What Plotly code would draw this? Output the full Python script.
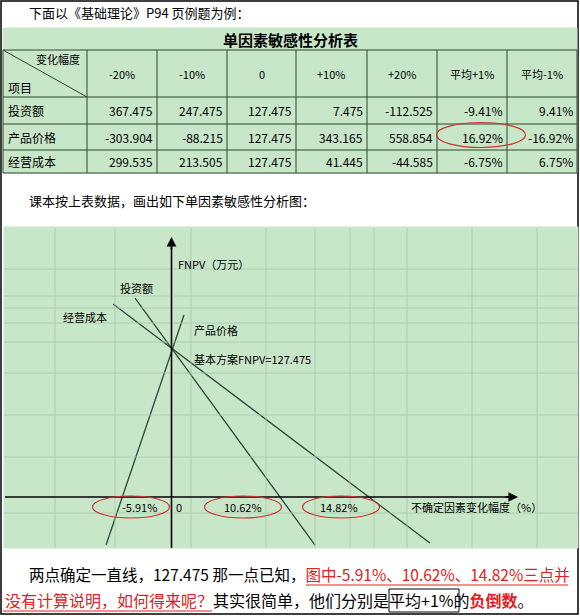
import plotly.graph_objects as go

W, H = 580, 616

# table data
col_labels = ["-20%", "-10%", "0", "+10%", "+20%", "平均+1%", "平均-1%"]
row_labels = ["投资额", "产品价格", "经营成本"]
invest = ["367.475", "247.475", "127.475", "7.475", "-112.525", "-9.41%", "9.41%"]
price = ["-303.904", "-88.215", "127.475", "343.165", "558.854", "16.92%", "-16.92%"]
cost = ["299.535", "213.505", "127.475", "41.445", "-44.585", "-6.75%", "6.75%"]
table_rows = [invest, price, cost]

# chart data (drawn units: x ~ change %, y ~ FNPV, as sketched in the picture)
price_x = [-7.86, 1.50]
price_y = [-41.1, 155.7]
invest_x = [-4.38, 17.23]
invest_y = [170.2, -41.1]
cost_x = [-7.02, 31.03]
cost_y = [165.1, -39.4]
cross_labels = ["-5.91%", "10.62%", "14.82%"]


def px(x):
    return x / W


def py(y):
    return 1 - y / H


FONT = "Noto Sans CJK SC"
GREEN = "#c8e6c8"
RED = "#e02020"
fig = go.Figure()
shapes = []
ann = []


def text(x, y, s, size=12, color="black", xanchor="left", bold=False):
    ann.append(dict(xref="paper", yref="paper", x=px(x), y=py(y), text=f"<b>{s}</b>" if bold else s,
                    showarrow=False, xanchor=xanchor, yanchor="middle",
                    font=dict(family=FONT, size=size, color=color)))


def line(x0, y0, x1, y1, color="black", width=1):
    shapes.append(dict(type="line", xref="paper", yref="paper", x0=px(x0), y0=py(y0), x1=px(x1), y1=py(y1),
                       line=dict(color=color, width=width)))


def rect(x0, y0, x1, y1, fill=None, color="black", width=1):
    shapes.append(dict(type="rect", xref="paper", yref="paper", x0=px(x0), y0=py(y0), x1=px(x1), y1=py(y1),
                       fillcolor=fill or "rgba(0,0,0,0)", line=dict(color=color, width=width), layer="below"))


def ellipse(cx, cy, w, h):
    shapes.append(dict(type="circle", xref="paper", yref="paper", x0=px(cx - w / 2), y0=py(cy - h / 2),
                       x1=px(cx + w / 2), y1=py(cy + h / 2), line=dict(color="#d03030", width=1.2)))


# page frame
rect(1, 1, 578, 614, color="black", width=1.5)
text(27, 13, "下面以《基础理论》P94 页例题为例：", 13)

# table
rect(3, 28, 577, 173, fill=GREEN, color=GREEN)
text(290, 39, "单因素敏感性分析表", 15, xanchor="center", bold=True)
cols = [3, 87, 157, 227, 296, 367, 437, 507, 577]
rows = [50, 97, 124, 150, 173]
for c in cols:
    line(c, rows[0], c, rows[-1], color="#2a4a2a")
for r in rows:
    line(3, r, 577, r, color="#2a4a2a")
line(3, 50, 87, 97, color="#2a4a2a")
text(82, 59, "变化幅度", 11, xanchor="right")
text(6, 88, "项目", 12)
for i, lab in enumerate(col_labels):
    text((cols[i + 1] + cols[i + 2]) / 2, 74, lab, 11, xanchor="center")
for r, (lab, vals) in enumerate(zip(row_labels, table_rows)):
    yc = (rows[r + 1] + rows[r + 2]) / 2
    text(6, yc, lab, 12)
    for i, v in enumerate(vals):
        text(cols[i + 2] - 2, yc, v, 12, xanchor="right")
ellipse(481, 135, 89, 25)

text(27, 200, "课本按上表数据，画出如下单因素敏感性分析图：", 13)

# chart background + grid
rect(4, 227, 578, 548, fill=GREEN, color=GREEN)
for gx in [55, 115, 191, 266, 315, 350, 374, 407, 472, 537]:
    line(gx, 228, gx, 548, color="#a8c8a8", width=0.8)
for gy in [269, 296, 308, 323, 342, 373, 415, 457, 513]:
    line(4, gy, 578, gy, color="#a8c8a8", width=0.8)

# axes
line(5, 497, 512, 497, width=1.6)
line(171.5, 548, 171.5, 243, width=1.6)
ann.append(dict(xref="paper", yref="paper", x=px(518), y=py(497), ax=-14, ay=0, text="", showarrow=True,
                arrowhead=2, arrowsize=1.2, arrowwidth=1.6, arrowcolor="black"))
ann.append(dict(xref="paper", yref="paper", x=px(171.5), y=py(237), ax=0, ay=14, text="", showarrow=True,
                arrowhead=2, arrowsize=1.2, arrowwidth=1.6, arrowcolor="black"))

for xs, ys in [(price_x, price_y), (invest_x, invest_y), (cost_x, cost_y)]:
    fig.add_trace(go.Scatter(x=xs, y=ys, mode="lines", line=dict(color="#2a4a3a", width=1.3),
                             showlegend=False, hoverinfo="skip"))

text(176, 264, "FNPV（万元）", 11)
text(118, 288, "投资额", 11)
text(61, 317, "经营成本", 11)
text(192, 330, "产品价格", 11)
text(192, 359, "基本方案FNPV=127.475", 11)
text(179, 507, "0", 11, xanchor="center")
for cx, lcx, lab in zip([131, 243, 341], [139, 243, 339], cross_labels):
    text(lcx, 507, lab, 11, xanchor="center")
    ellipse(cx, 507, 77, 22)
text(409, 507, "不确定因素变化幅度（%）", 11)

# bottom text
ann.append(dict(xref="paper", yref="paper", x=px(27), y=py(574), xanchor="left", yanchor="middle", showarrow=False,
                text="两点确定一直线，127.475 那一点已知，<span style='color:#e02020'>图中-5.91%、10.62%、14.82%三点并</span>",
                font=dict(family=FONT, size=15.5, color="black")))
ann.append(dict(xref="paper", yref="paper", x=px(3), y=py(600), xanchor="left", yanchor="middle", showarrow=False,
                text="<span style='color:#e02020'>没有计算说明，如何得来呢？</span>其实很简单，他们分别是"
                     "平均+1%的<b><span style='color:#e02020'>负倒数</span></b>。",
                font=dict(family=FONT, size=16, color="black")))
line(306, 585, 568, 585, color=RED)
line(3, 611, 212, 611, color=RED)
rect(389, 589, 459, 612)

fig.update_layout(
    width=W, height=H, margin=dict(l=0, r=0, t=0, b=0),
    paper_bgcolor="white", plot_bgcolor="rgba(0,0,0,0)",
    xaxis=dict(domain=[px(3), px(577)], range=[-20.23, 48.68], visible=False),
    yaxis=dict(domain=[py(548), py(228)], range=[-43.6, 230.1], visible=False),
    shapes=shapes, annotations=ann,
)
fig.write_html("out.html", config={"displayModeBar": False},
               post_script="document.body.style.margin='0';")
